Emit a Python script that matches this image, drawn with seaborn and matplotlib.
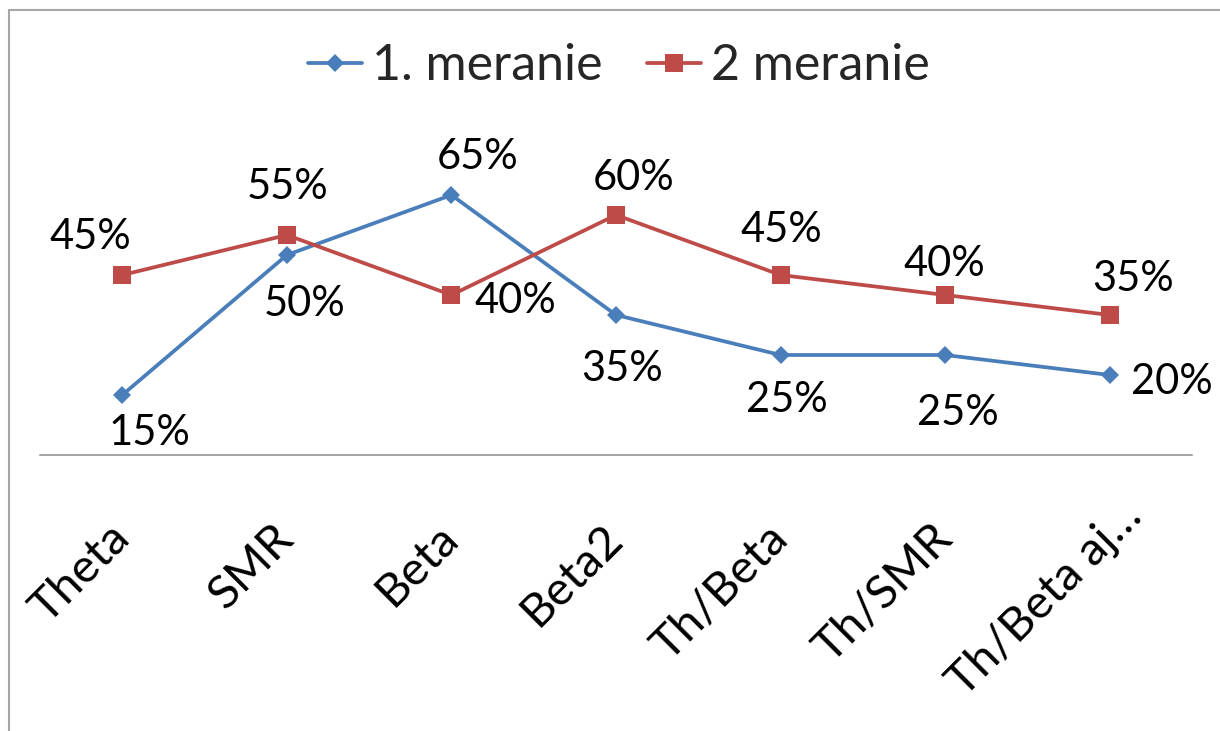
import matplotlib
matplotlib.use("Agg")
import matplotlib.pyplot as plt
from matplotlib.lines import Line2D
from matplotlib.transforms import ScaledTranslation
import seaborn as sns
import pandas as pd

# Category names and the two measurement series (shares)
categories = ["Theta", "SMR", "Beta", "Beta2", "Th/Beta", "Th/SMR", "Th/Beta aj…"]
meranie_1 = [0.15, 0.50, 0.65, 0.35, 0.25, 0.25, 0.20]
meranie_2 = [0.45, 0.55, 0.40, 0.60, 0.45, 0.40, 0.35]
series_names = ["1. meranie", "2 meranie"]

# Label offsets from each point (pixels, right / down)
offsets_1 = [(27, 36), (18, 47), (26, -40), (6, 52), (6, 43), (13, 56), (62, 5)]
offsets_2 = [(-32, -40), (1, -50), (64, 4), (18, -39), (1, -47), (-1, -33), (23, -38)]

BLUE = "#4A7EBB"
RED = "#BE4B48"
FONT = "Lato"
FS_VALUES = 30
FS_TICKS = 34
FS_LEGEND = 36

df = pd.DataFrame({
    "kategoria": categories * 2,
    "hodnota": meranie_1 + meranie_2,
    "meranie": [series_names[0]] * len(categories) + [series_names[1]] * len(categories),
})

sns.set_theme(style="white")
plt.rcParams["font.family"] = [FONT, "DejaVu Sans"]

W, H = 1220, 731
fig = plt.figure(figsize=(W / 100, H / 100), dpi=100)
fig.patch.set_facecolor("white")
ax = fig.add_axes([40 / W, (H - 455) / H, 1152 / W, 280 / H])

sns.lineplot(
    data=df, x="kategoria", y="hodnota", hue="meranie", style="meranie",
    palette={series_names[0]: BLUE, series_names[1]: RED},
    markers={series_names[0]: "D", series_names[1]: "s"},
    dashes=False, sort=False, linewidth=2.7, markeredgewidth=0,
    ax=ax,
)
for line in ax.lines:
    if line.get_marker() == "D":
        line.set_markersize(9)
    elif line.get_marker() == "s":
        line.set_markersize(13)

ax.set_xlim(-0.5, len(categories) - 0.5)
ax.set_ylim(0, 0.7)
ax.set_xlabel("")
ax.set_ylabel("")
ax.set_yticks([])
for side in ("top", "right", "left"):
    ax.spines[side].set_visible(False)
ax.spines["bottom"].set_color("#8C8C8C")
ax.spines["bottom"].set_linewidth(1.1)
ax.tick_params(axis="x", length=0, pad=55)
ax.set_xticks(range(len(categories)))
ax.set_xticklabels(categories, rotation=45, ha="right", va="center",
                   rotation_mode="anchor", fontsize=FS_TICKS,
                   family=[FONT, "DejaVu Sans"], color="black")
# the shortened last category sits a little further along its slant
last = ax.get_xticklabels()[-1]
last.set_transform(last.get_transform() + ScaledTranslation(0.25, 0.22, fig.dpi_scale_trans))

# Value labels
px = 72 / 100
for vals, offs in ((meranie_1, offsets_1), (meranie_2, offsets_2)):
    for i, (v, (dx, dy)) in enumerate(zip(vals, offs)):
        ax.annotate(f"{v:.0%}", xy=(i, v), xytext=(dx * px, -(dy + 14) * px),
                    textcoords="offset points", ha="center", va="baseline",
                    fontsize=FS_VALUES, color="black", family=[FONT, "DejaVu Sans"])

# Legend across the top
handles, labels = ax.get_legend_handles_labels()
if ax.get_legend() is not None:
    ax.get_legend().remove()
fig.legend(handles, labels, loc="center", ncol=2,
           bbox_to_anchor=(619 / W, 1 - 66 / H), frameon=False,
           prop={"family": [FONT, "DejaVu Sans"], "size": FS_LEGEND},
           handlelength=1.08, handletextpad=0.2, columnspacing=0.9)

# Chart frame (top and left edges)
fig.add_artist(Line2D([8.5 / W, 1.01], [1 - 9.5 / H, 1 - 9.5 / H],
                      transform=fig.transFigure, color="#A6A6A6", linewidth=1.5))
fig.add_artist(Line2D([8.5 / W, 8.5 / W], [1 - 9.5 / H, -0.01],
                      transform=fig.transFigure, color="#A6A6A6", linewidth=1.5))

fig.savefig("out.png", dpi=100, facecolor="white")
